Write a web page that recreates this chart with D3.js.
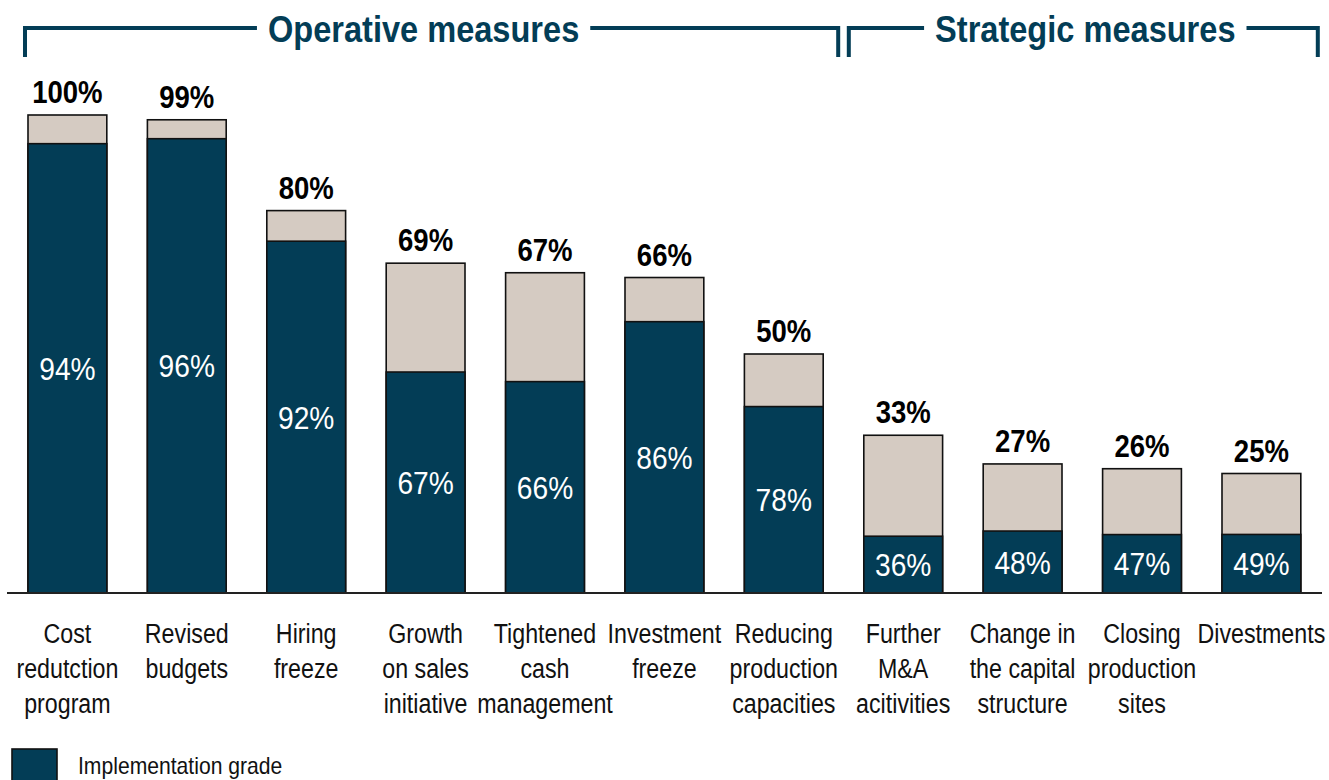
<!DOCTYPE html>
<html>
<head>
<meta charset="utf-8">
<script src="https://cdn.jsdelivr.net/npm/d3@7"></script>
<style>
	body { margin: 0; background: #fff; }
	svg { display: block; }
	text { font-family: "Liberation Sans", Arial, sans-serif; }
</style>
</head>
<body>
<svg id="chart" width="1329" height="780"></svg>
<script>

// share of companies using the measure (bar height) and implementation grade (dark part)
var categories = [
	["Cost", "redutction", "program"],
	["Revised", "budgets"],
	["Hiring", "freeze"],
	["Growth", "on sales", "initiative"],
	["Tightened", "cash", "management"],
	["Investment", "freeze"],
	["Reducing", "production", "capacities"],
	["Further", "M&A", "acitivities"],
	["Change in", "the capital", "structure"],
	["Closing", "production", "sites"],
	["Divestments"]
];
var usage = [100, 99, 80, 69, 67, 66, 50, 33, 27, 26, 25];
var implementation = [94, 96, 92, 67, 66, 86, 78, 36, 48, 47, 49];

// groups: first / last bar index covered by each bracket
var groupNames = ["Operative measures", "Strategic measures"];
var groupFrom = [0, 7];
var groupTo = [6, 10];
var legendLabel = "Implementation grade";

var darkColor = "#033d56";
var lightColor = "#d5cbc2";

var svg = d3.select("#chart");
var baseY = 593;

// no narrow font installed, so squeeze the glyphs to look like Arial Narrow
function narrow(sel, k) {
	sel.each(function() {
		var w = this.getComputedTextLength();
		d3.select(this)
			.attr("textLength", w * k)
			.attr("lengthAdjust", "spacingAndGlyphs");
	});
}

var x = d3.scaleBand()
	.domain(d3.range(usage.length))
	.range([7.7, 1321.1])
	.paddingInner(0.34)
	.paddingOuter(0.17);

var y = d3.scaleLinear()
	.domain([0, 100])
	.range([baseY, 115]);

var bw = x.bandwidth();

var bars = svg.selectAll("g.bar")
	.data(usage)
	.enter()
	.append("g")
	.attr("class", "bar");

// total bar (light)
bars.append("rect")
	.attr("x", function(d, i) { return x(i); })
	.attr("y", function(d) { return y(d); })
	.attr("width", bw)
	.attr("height", function(d) { return baseY - y(d); })
	.style("fill", lightColor)
	.style("stroke", "#111")
	.style("stroke-width", 1.6);

// implemented share of the bar (dark)
bars.append("rect")
	.attr("x", function(d, i) { return x(i); })
	.attr("y", function(d, i) { return y(d * implementation[i] / 100); })
	.attr("width", bw)
	.attr("height", function(d, i) { return baseY - y(d * implementation[i] / 100); })
	.style("fill", darkColor)
	.style("stroke", "#111")
	.style("stroke-width", 1.6);

var topLabels = bars.append("text")
	.attr("x", function(d, i) { return x(i) + bw / 2; })
	.attr("y", function(d) { return y(d) - 12; })
	.attr("text-anchor", "middle")
	.style("font-weight", "bold")
	.style("font-size", "32px")
	.style("fill", "#000")
	.text(function(d) { return d + "%"; });
narrow(topLabels, 0.86);

var innerLabels = bars.append("text")
	.attr("x", function(d, i) { return x(i) + bw / 2; })
	.attr("y", function(d, i) { return (baseY + y(d * implementation[i] / 100)) / 2; })
	.attr("dy", "0.36em")
	.attr("text-anchor", "middle")
	.style("font-size", "32px")
	.style("fill", "#fff")
	.text(function(d, i) { return implementation[i] + "%"; });
narrow(innerLabels, 0.88);

// baseline
svg.append("line")
	.attr("x1", 7)
	.attr("x2", 1322)
	.attr("y1", baseY)
	.attr("y2", baseY)
	.style("stroke", "#222")
	.style("stroke-width", 2);

// category labels, one text per line
var lines = [];
categories.forEach(function(c, i) {
	c.forEach(function(s, j) { lines.push({ s: s, i: i, j: j }); });
});

var cat = svg.selectAll("text.cat")
	.data(lines)
	.enter()
	.append("text")
	.attr("class", "cat")
	.attr("x", function(d) { return x(d.i) + bw / 2; })
	.attr("y", function(d) { return 643 + d.j * 35; })
	.attr("text-anchor", "middle")
	.style("font-size", "27px")
	.style("fill", "#111")
	.text(function(d) { return d.s; });
narrow(cat, 0.86);

// group brackets with titles
var padLeft = [3, 15];
var padRight = [15, 17];
var titleShift = [-8, 2];

groupNames.forEach(function(name, g) {
	var left = x(groupFrom[g]) - padLeft[g];
	var right = x(groupTo[g]) + bw + padRight[g];
	var top = 28;
	var mid = (left + right) / 2 + titleShift[g];

	var t = svg.append("text")
		.attr("x", mid)
		.attr("y", 42)
		.attr("text-anchor", "middle")
		.style("font-weight", "bold")
		.style("font-size", "37px")
		.style("fill", darkColor)
		.text(name);
	narrow(t, 0.88);

	// textLength is set now, so this is already the squeezed width
	var half = +t.attr("textLength") / 2 + 11;

	svg.append("path")
		.attr("d", "M" + left + "," + (top + 29) + "V" + top + "H" + (mid - half))
		.style("fill", "none")
		.style("stroke", darkColor)
		.style("stroke-width", 4);

	svg.append("path")
		.attr("d", "M" + (mid + half) + "," + top + "H" + right + "V" + (top + 29))
		.style("fill", "none")
		.style("stroke", darkColor)
		.style("stroke-width", 4);
});

// legend
svg.append("rect")
	.attr("x", 12)
	.attr("y", 749)
	.attr("width", 45)
	.attr("height", 34)
	.style("fill", darkColor)
	.style("stroke", "#111")
	.style("stroke-width", 1.6);

var leg = svg.append("text")
	.attr("x", 78)
	.attr("y", 774)
	.style("font-size", "24px")
	.style("fill", "#111")
	.text(legendLabel);
narrow(leg, 0.88);

</script>
</body>
</html>
